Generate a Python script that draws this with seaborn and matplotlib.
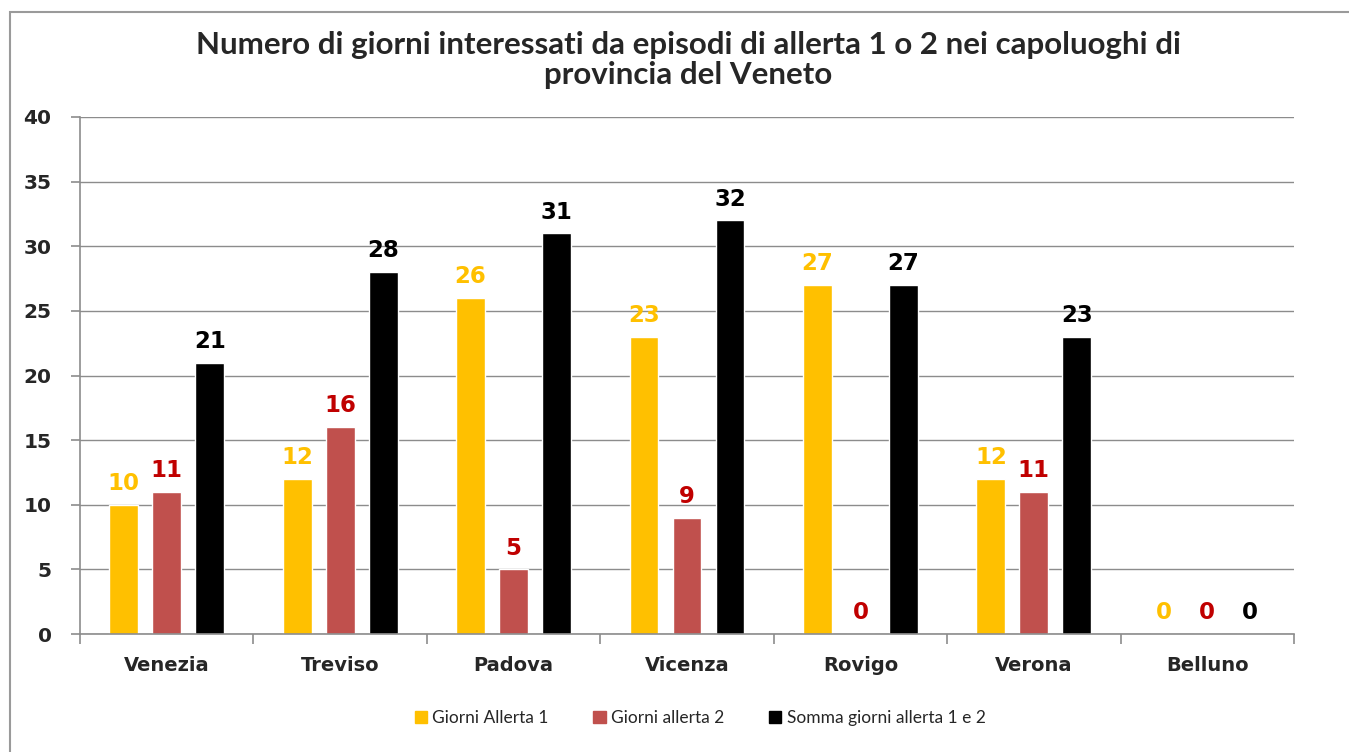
import matplotlib
matplotlib.use("Agg")
import matplotlib.pyplot as plt
import seaborn as sns
import pandas as pd
from matplotlib.patches import Rectangle, Patch

cities = ["Venezia", "Treviso", "Padova", "Vicenza", "Rovigo", "Verona", "Belluno"]
allerta1 = [10, 12, 26, 23, 27, 12, 0]
allerta2 = [11, 16, 5, 9, 0, 11, 0]
somma = [21, 28, 31, 32, 27, 23, 0]
series = ["Giorni Allerta 1", "Giorni allerta 2", "Somma giorni allerta 1 e 2"]
bar_colors = ["#FFC000", "#C0504D", "#000000"]
label_colors = ["#FFC000", "#C00000", "#000000"]
yticks = [0, 5, 10, 15, 20, 25, 30, 35, 40]
title = "Numero di giorni interessati da episodi di allerta 1 o 2 nei capoluoghi di\nprovincia del Veneto"

df = pd.DataFrame({
    "city": cities * 3,
    "serie": [series[0]] * 7 + [series[1]] * 7 + [series[2]] * 7,
    "value": allerta1 + allerta2 + somma,
})

sns.set_style("white")
plt.rcParams["font.family"] = ["DejaVu Sans"]

fig = plt.figure(figsize=(13.49, 7.52), dpi=100)
ax = fig.add_axes([80 / 1349, 1 - 634 / 752, (1294 - 80) / 1349, (634 - 117) / 752])

sns.barplot(data=df, x="city", y="value", hue="serie", hue_order=series,
            palette=bar_colors, width=0.744, gap=0.33, ax=ax, legend=False,
            saturation=1, errorbar=None)

for cont, col in zip(ax.containers, label_colors):
    ax.bar_label(cont, labels=[str(int(v)) for v in cont.datavalues], padding=7,
                 color=col, fontsize=16.5, fontweight="bold")

ax.set_ylim(0, 40)
ax.set_xlim(-0.5, 6.5)
ax.set_yticks(yticks)
ax.set_yticklabels([str(t) for t in yticks], fontsize=14.5, fontweight="bold")
ax.set_xticks(range(7))
ax.set_xticklabels(cities, fontsize=14, fontweight="bold")
ax.set_xlabel("")
ax.set_ylabel("")
ax.yaxis.grid(True, color="#8c8c8c", linewidth=1)
ax.set_axisbelow(True)
for s in ["top", "right"]:
    ax.spines[s].set_visible(False)
for s in ["left", "bottom"]:
    ax.spines[s].set_color("#8c8c8c")
    ax.spines[s].set_linewidth(1.2)
ax.tick_params(axis="x", length=0, pad=16)
ax.tick_params(axis="y", length=6.5, color="#8c8c8c", width=1.2, left=True, pad=14)
ax.set_xticks([i - 0.5 for i in range(8)], minor=True)
ax.tick_params(axis="x", which="minor", length=7, color="#8c8c8c", width=1.2, bottom=True, direction="out")

fig.text(688 / 1349, 1 - 60 / 752, title, ha="center", va="center", fontsize=22.5,
         fontweight="bold", family=["Lato", "DejaVu Sans"], linespacing=1.08)

handles = [Patch(facecolor=c, edgecolor=c) for c in bar_colors]
fig.legend(handles, series, loc="center", bbox_to_anchor=(700 / 1349, 1 - 718 / 752),
           ncol=3, frameon=False, prop={"family": ["Lato", "DejaVu Sans"], "size": 12.5},
           handlelength=0.7, handleheight=0.7, handletextpad=0.3, columnspacing=2.6)

fig.patches.append(Rectangle((10 / 1349, -0.05), 1.2, 1 - 12 / 752 + 0.05,
                             transform=fig.transFigure, fill=False,
                             edgecolor="#9a9a9a", linewidth=1.5))

fig.savefig("out.png", dpi=100)
